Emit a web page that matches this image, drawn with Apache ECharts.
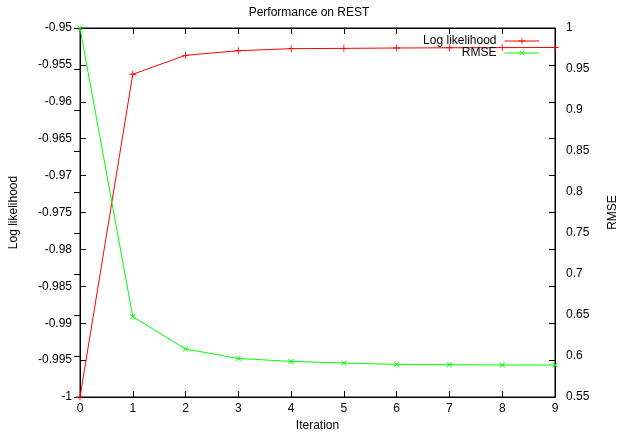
<!DOCTYPE html>
<html>
<head>
<meta charset="utf-8">
<script src="https://cdn.jsdelivr.net/npm/echarts@6/dist/echarts.min.js"></script>
<style>
  html, body { margin: 0; padding: 0; background: #fff; }
  #main { width: 618px; height: 435px; }
</style>
</head>
<body>
<div id="main"></div>
<script>
// iterations along x
var iterations = [0, 1, 2, 3, 4, 5, 6, 7, 8, 9];
// log likelihood per iteration (left axis)
var logLikelihood = [-1.0, -0.95627, -0.9537, -0.95308, -0.9528, -0.95276, -0.95271, -0.95268, -0.95266, -0.95264];
// RMSE per iteration (right axis)
var rmse = [1.0, 0.648, 0.6085, 0.597, 0.5934, 0.5915, 0.5898, 0.5894, 0.589, 0.589];

var font = 'Liberation Sans, Arial, sans-serif';
var plusPath = 'path://M4.4,0H5.6V4.4H10V5.6H5.6V10H4.4V5.6H0V4.4H4.4Z';

function pairs(ys) {
  return iterations.map(function (x, i) { return [x, ys[i]]; });
}

var myChart = echarts.init(document.getElementById('main'));

var tickStyle = { show: true, inside: true, length: 6, lineStyle: { color: '#000', width: 1 } };
var lineStyle = { show: true, lineStyle: { color: '#000', width: 1 } };
var labelStyle = { color: '#000', fontFamily: font, fontSize: 12 };

myChart.setOption({
  animation: false,
  title: {
    text: 'Performance on REST',
    left: 'center',
    top: 2,
    textStyle: { color: '#000', fontFamily: font, fontSize: 12, fontWeight: 'normal' }
  },
  legend: {
    orient: 'vertical',
    right: 73,
    top: 30,
    align: 'right',
    itemWidth: 35,
    itemHeight: 8,
    itemGap: 0,
    lineStyle: { width: 1 },
    textStyle: { color: '#000', fontFamily: font, fontSize: 12, padding: [0, 3, 0, 0] },
    data: ['Log likelihood', 'RMSE']
  },
  grid: {
    left: 80, right: 63, top: 28, bottom: 38,
    show: true, borderColor: '#000', borderWidth: 1,
    containLabel: false,
    outerBoundsMode: 'none'
  },
  xAxis: [
    {
      type: 'value', min: 0, max: 9, interval: 1,
      name: 'Iteration', nameLocation: 'middle', nameGap: 23,
      nameTextStyle: labelStyle,
      axisLine: lineStyle, axisTick: tickStyle,
      axisLabel: Object.assign({ margin: 6 }, labelStyle),
      splitLine: { show: false }
    },
    {
      type: 'value', min: 0, max: 9, interval: 1, position: 'top',
      axisLine: lineStyle, axisTick: tickStyle,
      axisLabel: { show: false }, splitLine: { show: false }
    }
  ],
  yAxis: [
    {
      type: 'value', min: -1, max: -0.95, interval: 0.005, position: 'left',
      name: 'Log likelihood', nameLocation: 'middle', nameGap: 60, nameRotate: 90,
      nameTextStyle: labelStyle,
      axisLine: lineStyle, axisTick: tickStyle,
      axisLabel: Object.assign({ margin: 8 }, labelStyle),
      splitLine: { show: false }
    },
    {
      type: 'value', min: 0.55, max: 1, interval: 0.05, position: 'right',
      name: 'RMSE', nameLocation: 'middle', nameGap: 52, nameRotate: 90,
      nameTextStyle: labelStyle,
      axisLine: lineStyle, axisTick: tickStyle,
      axisLabel: Object.assign({ margin: 11 }, labelStyle),
      splitLine: { show: false }
    },
    {
      type: 'value', min: -1, max: -0.95, interval: 0.005, position: 'right',
      axisLine: lineStyle, axisTick: tickStyle,
      axisLabel: { show: false }, splitLine: { show: false }
    }
  ],
  series: [
    {
      name: 'Log likelihood',
      type: 'line',
      xAxisIndex: 0, yAxisIndex: 0,
      data: pairs(logLikelihood),
      symbol: plusPath, symbolSize: 7,
      color: '#ff0000',
      lineStyle: { color: '#ff0000', width: 1 },
      itemStyle: { color: '#ff0000' },
      z: 3
    },
    {
      name: 'RMSE',
      type: 'line',
      xAxisIndex: 0, yAxisIndex: 1,
      data: pairs(rmse),
      symbol: plusPath, symbolSize: 7, symbolRotate: 45,
      color: '#00ff00',
      lineStyle: { color: '#00ff00', width: 1 },
      itemStyle: { color: '#00ff00' },
      z: 3
    }
  ]
});
</script>
</body>
</html>
